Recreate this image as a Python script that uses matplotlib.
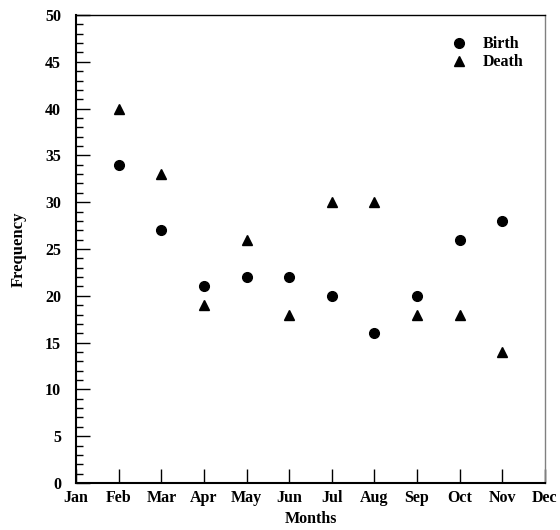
import matplotlib
matplotlib.use('Agg')
from matplotlib import pyplot as plt
from matplotlib.ticker import MultipleLocator

months = ['Jan', 'Feb', 'Mar', 'Apr', 'May', 'Jun', 'Jul', 'Aug', 'Sep', 'Oct', 'Nov', 'Dec']
data_months = ['Feb', 'Mar', 'Apr', 'May', 'Jun', 'Jul', 'Aug', 'Sep', 'Oct', 'Nov']
birth = [34, 27, 21, 22, 22, 20, 16, 20, 26, 28]
death = [40, 33, 19, 26, 18, 30, 30, 18, 18, 14]

plt.rcParams['font.family'] = ['Liberation Serif', 'DejaVu Serif']
plt.rcParams['font.weight'] = 'bold'
plt.rcParams['font.size'] = 11.5

fig = plt.figure(figsize=(5.6, 5.3), dpi=100)
ax = fig.add_axes([0.136, 0.0887, 0.837, 0.883])

xpos = [months.index(m) for m in data_months]
ax.plot(xpos, birth, 'o', color='black', markersize=7, label='Birth', linestyle='none')
ax.plot(xpos, death, '^', color='black', markersize=7, label='Death', linestyle='none')

ax.set_xlim(0, 11)
ax.set_ylim(0, 50)
ax.set_xticks(range(len(months)))
ax.set_xticklabels(months, fontweight='bold')
ax.yaxis.set_major_locator(MultipleLocator(5))
ax.yaxis.set_minor_locator(MultipleLocator(1))
ax.tick_params(axis='y', which='major', direction='in', length=10, width=1, pad=11)
ax.tick_params(axis='y', which='minor', direction='in', length=5, width=1)
ax.tick_params(axis='x', which='major', direction='in', length=10, width=1, pad=5)

ax.spines['left'].set_linewidth(1.5)
ax.spines['bottom'].set_linewidth(1.5)
ax.spines['top'].set_linewidth(1)
ax.spines['right'].set_linewidth(1)
ax.spines['right'].set_color('gray')

ax.set_xlabel('Months', fontweight='bold', fontsize=11.5, labelpad=4)
ax.set_ylabel('Frequency', fontweight='bold', fontsize=12, labelpad=13)

leg = ax.legend(loc='upper right', frameon=False, handletextpad=0.5, labelspacing=0.12,
                bbox_to_anchor=(0.985, 0.985), prop={'weight': 'bold', 'size': 11.5})

plt.savefig('out.png', dpi=100)
